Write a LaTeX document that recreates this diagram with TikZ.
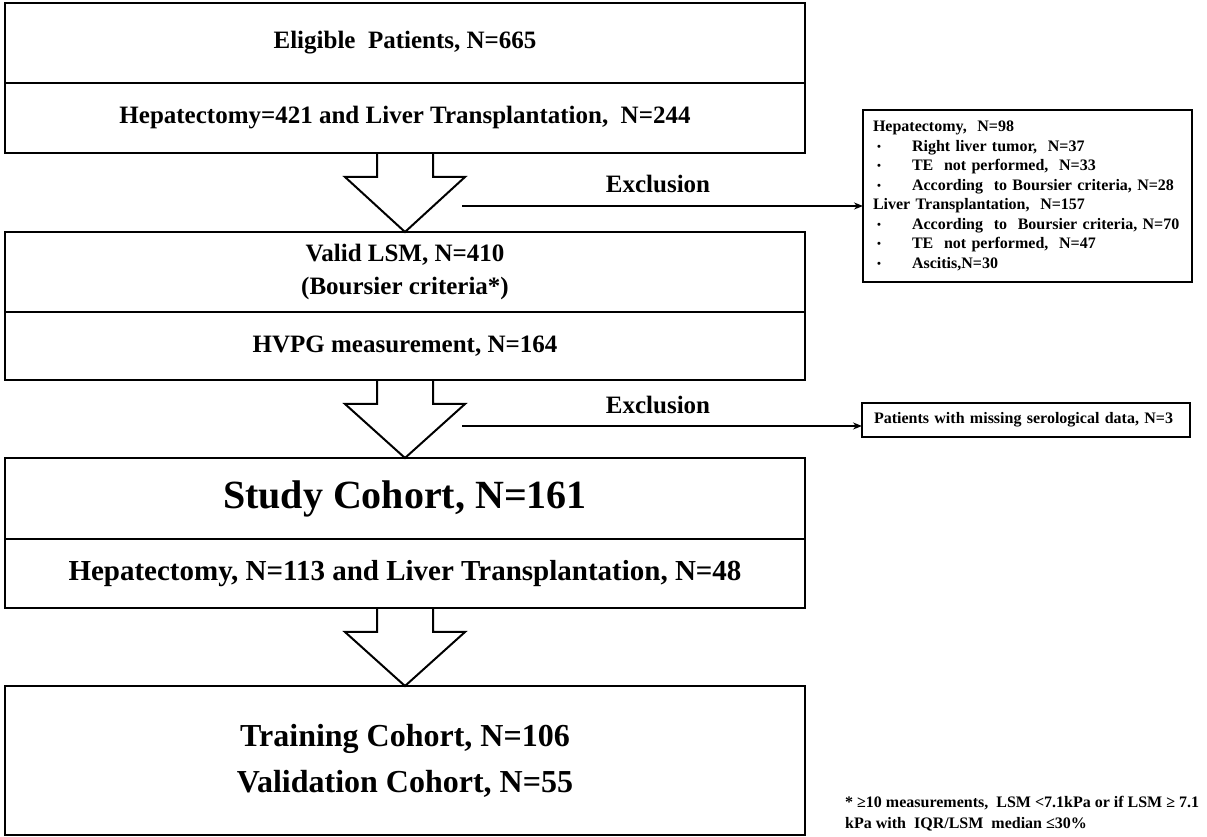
\documentclass[tikz,border=0pt]{standalone}
\usepackage{fontspec}
\setmainfont{Liberation Serif}
\usetikzlibrary{calc, positioning}
\usetikzlibrary{arrows.meta}

\newcommand\bull{\makebox[39pt][l]{\hspace{4pt}\raisebox{1pt}{\scalebox{0.7}{\textbullet}}}}

\tikzset{
  flowbox/.style={draw, line width=2.5pt, outer sep=0pt, inner sep=0pt, minimum width=800pt, align=center},
  blockarrow/.style={line width=2pt, line join=miter},
  exclline/.style={line width=1.5pt, -{Stealth[length=9pt, width=7pt]}},
  exclbox/.style={draw, line width=2.5pt, outer sep=0pt, align=left, inner xsep=10pt, font=\bfseries\fontsize{16}{19.5}\selectfont},
}

\begin{document}
\begin{tikzpicture}[x=1pt, y=1pt]
\useasboundingbox (0,0) rectangle (1207,837);

% main column
\node[flowbox, minimum height=80pt, font=\bfseries\fontsize{25}{30}\selectfont] (eligible) at (405,794) {Eligible\ \ Patients, N=665};
\node[flowbox, minimum height=70pt, below=0pt of eligible, font=\bfseries\fontsize{25}{30}\selectfont] (hepa421) {Hepatectomy=421 and Liver Transplantation,\ \ N=244};

\node[flowbox, minimum height=80pt, below=79pt of hepa421, font=\bfseries\fontsize{25}{33}\selectfont] (validlsm) {Valid LSM, N=410\\(Boursier criteria*)};
\node[flowbox, minimum height=68pt, below=0pt of validlsm, font=\bfseries\fontsize{25}{30}\selectfont] (hvpg) {HVPG measurement, N=164};

\node[flowbox, minimum height=81pt, below=78pt of hvpg, font=\bfseries\fontsize{40}{48}\selectfont] (study) {Study Cohort, N=161};
\node[flowbox, minimum height=69pt, below=0pt of study, font=\bfseries\fontsize{29}{35}\selectfont] (hepa113) {Hepatectomy, N=113 and Liver Transplantation, N=48};

\node[flowbox, minimum height=149pt, below=78pt of hepa113, font=\bfseries\fontsize{32}{46}\selectfont] (training) {Training Cohort, N=106\\Validation Cohort, N=55};

% block arrows
\foreach \src/\dst in {hepa421/validlsm, hvpg/study, hepa113/training}
  \draw[blockarrow] ($(\src.south)+(-28,0)$) -- ++(0,-24) -- ++(-32,0) -- (\dst.north)
    -- ($(\src.south)+(60,-24)$) -- ++(-32,0) -- ++(0,24);

% exclusions
\node[exclbox, text width=309pt, minimum height=172pt] (hepexcl) at (1027.5,641) {%
Hepatectomy,\ \ N=98\\
\bull Right liver tumor,\ \ N=37\\
\bull TE\ \ not performed,\ \ N=33\\
\bull According\ \ to Boursier criteria, N=28\\
Liver Transplantation,\ \ N=157\\
\bull According\ \ to\ \ Boursier criteria, N=70\\
\bull TE\ \ not performed,\ \ N=47\\
\bull Ascitis,N=30};
\coordinate (excl1) at (462,631);
\draw[exclline] (excl1) -- (excl1 -| hepexcl.west);
\node[font=\bfseries\fontsize{25}{30}\selectfont] (excllabel1) at (658,653) {Exclusion};

\node[exclbox, text width=304pt, inner xsep=12pt, minimum height=34pt] (serobox) at (1026,417) {Patients with missing serological data, N=3};
\coordinate (excl2) at (462,411);
\draw[exclline] (excl2) -- (excl2 -| serobox.west);
\node[font=\bfseries\fontsize{25}{30}\selectfont] (excllabel2) at (658,432) {Exclusion};

% footnote
\node[anchor=north west, inner sep=0pt, align=left, font=\bfseries\fontsize{16}{21}\selectfont] (footnote) at (845,41)
  {* ≥10 measurements,\ \ LSM <7.1kPa or if LSM ≥ 7.1\\kPa with\ \ IQR/LSM\ \ median ≤30\%};
\end{tikzpicture}
\end{document}
